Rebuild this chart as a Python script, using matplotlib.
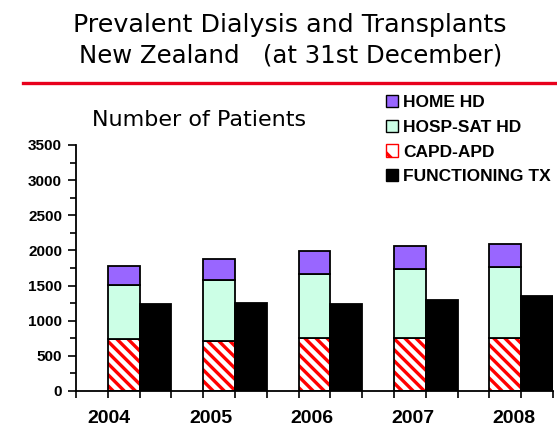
import numpy as np
import matplotlib
matplotlib.use("Agg")
import matplotlib.pyplot as plt
from matplotlib import patches

years = ["2004", "2005", "2006", "2007", "2008"]
capd_apd = [740, 716, 758, 750, 750]
hosp_sat_hd = [768, 859, 910, 980, 1014]
home_hd = [270, 307, 323, 337, 331]
functioning_tx = [1233, 1247, 1242, 1300, 1355]

plt.rcParams["hatch.linewidth"] = 2.4

fig = plt.figure(figsize=(5.57, 4.26), dpi=100)
ax = fig.add_axes([76 / 557, 35 / 426, 477 / 557, 246 / 426])

x = np.arange(len(years))
w = 1 / 3
capd = np.array(capd_apd)
hosp = np.array(hosp_sat_hd)
home = np.array(home_hd)

# red stripes first, then a black outline on top
ax.bar(x, capd, w, color="white", edgecolor="#FF0000", hatch="\\\\\\", linewidth=0)
ax.bar(x, capd, w, fill=False, edgecolor="black", linewidth=1.3)
ax.bar(x, hosp, w, bottom=capd, color="#CCFFE6", edgecolor="black", linewidth=1.3)
ax.bar(x, home, w, bottom=capd + hosp, color="#9966FF", edgecolor="black", linewidth=1.3)
ax.bar(x + w, functioning_tx, w, color="black", edgecolor="black", linewidth=1.3)

ax.set_xlim(-0.5, len(years) - 0.5)
ax.set_ylim(0, 3500)
ax.spines["top"].set_visible(False)
ax.spines["right"].set_visible(False)
ax.spines["left"].set_linewidth(1.3)
ax.spines["bottom"].set_linewidth(1.3)

# tick marks every third of a category, year labels under the stacked bars
ax.set_xticks(np.arange(-0.5, len(years) - 0.4, w))
ax.set_xticklabels([])
ax.set_xticks(x * 1.06 - 0.15, minor=True)
ax.set_xticklabels(years, minor=True, fontsize=14, fontweight="bold",
                   family="Liberation Sans")
ax.tick_params(axis="x", which="major", direction="out", length=5, width=1.2)
ax.tick_params(axis="x", which="minor", length=0, pad=14)

ax.set_yticks(np.arange(0, 3501, 500))
ax.set_yticks(np.arange(0, 3501, 250), minor=True)
ax.tick_params(axis="y", which="major", direction="out", length=6, width=1.2, pad=4)
ax.tick_params(axis="y", which="minor", direction="out", length=4, width=1.2)
for lab in ax.get_yticklabels():
    lab.set_fontsize(11)
    lab.set_fontweight("bold")
    lab.set_family("Liberation Sans")

fig.text(0.521, 1 - 32 / 426, "Prevalent Dialysis and Transplants",
         ha="center", va="baseline", fontsize=18.3, family="DejaVu Sans")
fig.text(0.522, 1 - 63 / 426, "New Zealand   (at 31st December)",
         ha="center", va="baseline", fontsize=17.6, family="DejaVu Sans")
fig.add_artist(plt.Line2D([23 / 557, 1], [1 - 83 / 426, 1 - 83 / 426],
                          color="#E8001C", linewidth=2.4))
fig.text(92 / 557, 1 - 126 / 426, "Number of Patients", ha="left", va="baseline",
         fontsize=16, family="DejaVu Sans")

handles = [
    patches.Patch(facecolor="#9966FF", edgecolor="black", label="HOME HD"),
    patches.Patch(facecolor="#CCFFE6", edgecolor="black", label="HOSP-SAT HD"),
    patches.Patch(facecolor="white", edgecolor="#FF0000", hatch="\\", label="CAPD-APD"),
    patches.Patch(facecolor="black", edgecolor="black", label="FUNCTIONING TX"),
]
fig.legend(handles=handles, loc="upper left", bbox_to_anchor=(386 / 557, 1 - 95 / 426),
           frameon=False, borderpad=0, borderaxespad=0, handlelength=0.7,
           handleheight=0.7, handletextpad=0.3, labelspacing=0.55,
           prop={"family": "Liberation Sans", "weight": "bold", "size": 12.5})

fig.savefig("out.png", dpi=100)
